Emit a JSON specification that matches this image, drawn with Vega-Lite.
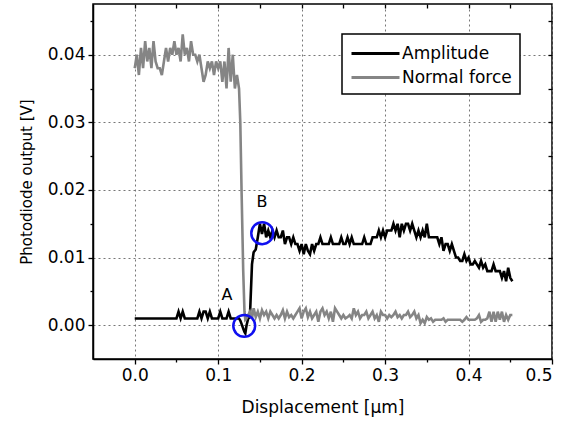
{
"$schema": "https://vega.github.io/schema/vega-lite/v6.json",
"width": 459, "height": 355,
"autosize": {"type": "none"},
"padding": {"left": 93, "top": 4, "right": 25, "bottom": 66},
"config": {"font": "DejaVu Sans", "view": {"stroke": "black", "strokeWidth": 1.5},
  "axis": {"labelFontSize": 17, "labelColor": "black", "labelFont": "DejaVu Sans", "titleFont": "DejaVu Sans", "titleFontSize": 16, "titleFontWeight": "normal", "titleColor": "black", "tickColor": "black", "tickWidth": 1.3, "domainColor": "black", "domainWidth": 1.5, "gridColor": "#777777", "gridDash": [2, 3], "gridWidth": 1, "gridOpacity": 1}},
"datasets": {
"curves": [
{"x":0,"Amplitude":0.001,"Normal force":0.038},
{"x":0.0025,"Amplitude":0.001,"Normal force":0.040},
{"x":0.005,"Amplitude":0.001,"Normal force":0.037},
{"x":0.0075,"Amplitude":0.001,"Normal force":0.041},
{"x":0.01,"Amplitude":0.001,"Normal force":0.038},
{"x":0.0125,"Amplitude":0.001,"Normal force":0.042},
{"x":0.015,"Amplitude":0.001,"Normal force":0.039},
{"x":0.0175,"Amplitude":0.001,"Normal force":0.041},
{"x":0.02,"Amplitude":0.001,"Normal force":0.038},
{"x":0.0225,"Amplitude":0.001,"Normal force":0.042},
{"x":0.025,"Amplitude":0.001,"Normal force":0.039},
{"x":0.0275,"Amplitude":0.001,"Normal force":0.038},
{"x":0.03,"Amplitude":0.001,"Normal force":0.038},
{"x":0.0325,"Amplitude":0.001,"Normal force":0.037},
{"x":0.035,"Amplitude":0.001,"Normal force":0.039},
{"x":0.0375,"Amplitude":0.001,"Normal force":0.041},
{"x":0.04,"Amplitude":0.001,"Normal force":0.039},
{"x":0.0425,"Amplitude":0.001,"Normal force":0.041},
{"x":0.045,"Amplitude":0.001,"Normal force":0.040},
{"x":0.0475,"Amplitude":0.001,"Normal force":0.042},
{"x":0.05,"Amplitude":0.001,"Normal force":0.040},
{"x":0.0525,"Amplitude":0.002,"Normal force":0.041},
{"x":0.055,"Amplitude":0.001,"Normal force":0.039},
{"x":0.0575,"Amplitude":0.002,"Normal force":0.043},
{"x":0.06,"Amplitude":0.001,"Normal force":0.040},
{"x":0.0625,"Amplitude":0.001,"Normal force":0.041},
{"x":0.065,"Amplitude":0.001,"Normal force":0.039},
{"x":0.0675,"Amplitude":0.001,"Normal force":0.042},
{"x":0.07,"Amplitude":0.001,"Normal force":0.040},
{"x":0.0725,"Amplitude":0.001,"Normal force":0.040},
{"x":0.075,"Amplitude":0.001,"Normal force":0.039},
{"x":0.0775,"Amplitude":0.002,"Normal force":0.040},
{"x":0.08,"Amplitude":0.001,"Normal force":0.038},
{"x":0.0825,"Amplitude":0.002,"Normal force":0.036},
{"x":0.085,"Amplitude":0.002,"Normal force":0.037},
{"x":0.0875,"Amplitude":0.001,"Normal force":0.039},
{"x":0.09,"Amplitude":0.002,"Normal force":0.038},
{"x":0.0925,"Amplitude":0.001,"Normal force":0.039},
{"x":0.095,"Amplitude":0.001,"Normal force":0.037},
{"x":0.0975,"Amplitude":0.001,"Normal force":0.039},
{"x":0.1,"Amplitude":0.001,"Normal force":0.038},
{"x":0.1025,"Amplitude":0.002,"Normal force":0.039},
{"x":0.105,"Amplitude":0.001,"Normal force":0.036},
{"x":0.1075,"Amplitude":0.001,"Normal force":0.039},
{"x":0.11,"Amplitude":0.001,"Normal force":0.035},
{"x":0.1125,"Amplitude":0.002,"Normal force":0.041},
{"x":0.115,"Amplitude":0.001,"Normal force":0.036},
{"x":0.1175,"Amplitude":0.001,"Normal force":0.040},
{"x":0.12,"Amplitude":0.001,"Normal force":0.035},
{"x":0.1225,"Amplitude":0.001,"Normal force":0.037},
{"x":0.125,"Amplitude":0.001,"Normal force":0.035},
{"x":0.1265,"Amplitude":0.0007,"Normal force":0.030},
{"x":0.128,"Amplitude":0.0002,"Normal force":0.020},
{"x":0.13,"Amplitude":-0.0005,"Normal force":0.008},
{"x":0.1315,"Amplitude":-0.001,"Normal force":0.002},
{"x":0.1325,"Amplitude":-0.0012,"Normal force":0.0008},
{"x":0.134,"Amplitude":0.0,"Normal force":0.001},
{"x":0.136,"Amplitude":0.001,"Normal force":0.0015},
{"x":0.138,"Amplitude":0.0012,"Normal force":0.002},
{"x":0.1405,"Amplitude":0.009,"Normal force":0.001},
{"x":0.1425,"Amplitude":0.0108,"Normal force":0.0025},
{"x":0.145,"Amplitude":0.0112,"Normal force":0.0012},
{"x":0.1475,"Amplitude":0.013,"Normal force":0.002},
{"x":0.15,"Amplitude":0.015,"Normal force":0.001},
{"x":0.1525,"Amplitude":0.0135,"Normal force":0.0022},
{"x":0.155,"Amplitude":0.015,"Normal force":0.0015},
{"x":0.1575,"Amplitude":0.013,"Normal force":0.002},
{"x":0.16,"Amplitude":0.014,"Normal force":0.001},
{"x":0.1625,"Amplitude":0.013,"Normal force":0.002},
{"x":0.165,"Amplitude":0.014,"Normal force":0.0015},
{"x":0.1675,"Amplitude":0.013,"Normal force":0.001},
{"x":0.17,"Amplitude":0.014,"Normal force":0.0015},
{"x":0.1725,"Amplitude":0.013,"Normal force":0.001},
{"x":0.175,"Amplitude":0.013,"Normal force":0.0015},
{"x":0.1775,"Amplitude":0.014,"Normal force":0.0022},
{"x":0.18,"Amplitude":0.012,"Normal force":0.001},
{"x":0.1825,"Amplitude":0.013,"Normal force":0.002},
{"x":0.185,"Amplitude":0.013,"Normal force":0.0012},
{"x":0.1875,"Amplitude":0.012,"Normal force":0.0015},
{"x":0.19,"Amplitude":0.013,"Normal force":0.001},
{"x":0.1925,"Amplitude":0.012,"Normal force":0.0015},
{"x":0.195,"Amplitude":0.012,"Normal force":0.002},
{"x":0.1975,"Amplitude":0.011,"Normal force":0.0025},
{"x":0.2,"Amplitude":0.012,"Normal force":0.001},
{"x":0.2025,"Amplitude":0.0105,"Normal force":0.002},
{"x":0.205,"Amplitude":0.012,"Normal force":0.0025},
{"x":0.2075,"Amplitude":0.011,"Normal force":0.0012},
{"x":0.21,"Amplitude":0.0105,"Normal force":0.002},
{"x":0.2125,"Amplitude":0.012,"Normal force":0.001},
{"x":0.215,"Amplitude":0.011,"Normal force":0.0015},
{"x":0.2175,"Amplitude":0.012,"Normal force":0.002},
{"x":0.22,"Amplitude":0.012,"Normal force":0.0005},
{"x":0.2225,"Amplitude":0.013,"Normal force":0.002},
{"x":0.225,"Amplitude":0.012,"Normal force":0.0025},
{"x":0.2275,"Amplitude":0.012,"Normal force":0.0015},
{"x":0.23,"Amplitude":0.012,"Normal force":0.002},
{"x":0.2325,"Amplitude":0.012,"Normal force":0.001},
{"x":0.235,"Amplitude":0.013,"Normal force":0.002},
{"x":0.2375,"Amplitude":0.012,"Normal force":0.0005},
{"x":0.24,"Amplitude":0.012,"Normal force":0.0025},
{"x":0.2425,"Amplitude":0.012,"Normal force":0.002},
{"x":0.245,"Amplitude":0.012,"Normal force":0.0015},
{"x":0.2475,"Amplitude":0.013,"Normal force":0.001},
{"x":0.25,"Amplitude":0.012,"Normal force":0.0015},
{"x":0.2525,"Amplitude":0.012,"Normal force":0.001},
{"x":0.255,"Amplitude":0.013,"Normal force":0.0012},
{"x":0.2575,"Amplitude":0.012,"Normal force":0.0015},
{"x":0.26,"Amplitude":0.013,"Normal force":0.001},
{"x":0.2625,"Amplitude":0.012,"Normal force":0.0025},
{"x":0.265,"Amplitude":0.012,"Normal force":0.0015},
{"x":0.2675,"Amplitude":0.012,"Normal force":0.002},
{"x":0.27,"Amplitude":0.012,"Normal force":0.001},
{"x":0.2725,"Amplitude":0.012,"Normal force":0.0015},
{"x":0.275,"Amplitude":0.013,"Normal force":0.0015},
{"x":0.2775,"Amplitude":0.012,"Normal force":0.002},
{"x":0.28,"Amplitude":0.012,"Normal force":0.001},
{"x":0.2825,"Amplitude":0.012,"Normal force":0.0015},
{"x":0.285,"Amplitude":0.013,"Normal force":0.002},
{"x":0.2875,"Amplitude":0.013,"Normal force":0.001},
{"x":0.29,"Amplitude":0.013,"Normal force":0.0015},
{"x":0.2925,"Amplitude":0.014,"Normal force":0.0005},
{"x":0.295,"Amplitude":0.013,"Normal force":0.002},
{"x":0.2975,"Amplitude":0.014,"Normal force":0.0015},
{"x":0.3,"Amplitude":0.013,"Normal force":0.0015},
{"x":0.3025,"Amplitude":0.014,"Normal force":0.001},
{"x":0.305,"Amplitude":0.014,"Normal force":0.0015},
{"x":0.3075,"Amplitude":0.014,"Normal force":0.0012},
{"x":0.31,"Amplitude":0.015,"Normal force":0.0015},
{"x":0.3125,"Amplitude":0.014,"Normal force":0.002},
{"x":0.315,"Amplitude":0.015,"Normal force":0.0012},
{"x":0.3175,"Amplitude":0.013,"Normal force":0.0015},
{"x":0.32,"Amplitude":0.015,"Normal force":0.001},
{"x":0.3225,"Amplitude":0.014,"Normal force":0.0015},
{"x":0.325,"Amplitude":0.015,"Normal force":0.0015},
{"x":0.3275,"Amplitude":0.015,"Normal force":0.002},
{"x":0.33,"Amplitude":0.014,"Normal force":0.0012},
{"x":0.3325,"Amplitude":0.015,"Normal force":0.0015},
{"x":0.335,"Amplitude":0.014,"Normal force":0.002},
{"x":0.3375,"Amplitude":0.013,"Normal force":0.001},
{"x":0.34,"Amplitude":0.014,"Normal force":0.0015},
{"x":0.3425,"Amplitude":0.013,"Normal force":0.0003},
{"x":0.345,"Amplitude":0.014,"Normal force":0.0008},
{"x":0.3475,"Amplitude":0.013,"Normal force":0.0003},
{"x":0.35,"Amplitude":0.015,"Normal force":0.0012},
{"x":0.3525,"Amplitude":0.013,"Normal force":0.0008},
{"x":0.355,"Amplitude":0.013,"Normal force":0.001},
{"x":0.3575,"Amplitude":0.013,"Normal force":0.0005},
{"x":0.36,"Amplitude":0.013,"Normal force":0.0008},
{"x":0.3625,"Amplitude":0.013,"Normal force":0.0008},
{"x":0.365,"Amplitude":0.012,"Normal force":0.0008},
{"x":0.3675,"Amplitude":0.013,"Normal force":0.0008},
{"x":0.37,"Amplitude":0.011,"Normal force":0.001},
{"x":0.3725,"Amplitude":0.012,"Normal force":0.0005},
{"x":0.375,"Amplitude":0.012,"Normal force":0.0008},
{"x":0.3775,"Amplitude":0.011,"Normal force":0.0008},
{"x":0.38,"Amplitude":0.012,"Normal force":0.0008},
{"x":0.3825,"Amplitude":0.011,"Normal force":0.0008},
{"x":0.385,"Amplitude":0.010,"Normal force":0.0008},
{"x":0.3875,"Amplitude":0.010,"Normal force":0.0008},
{"x":0.39,"Amplitude":0.0095,"Normal force":0.0008},
{"x":0.3925,"Amplitude":0.0095,"Normal force":0.0005},
{"x":0.395,"Amplitude":0.0105,"Normal force":0.0008},
{"x":0.3975,"Amplitude":0.0095,"Normal force":0.0012},
{"x":0.4,"Amplitude":0.010,"Normal force":0.0008},
{"x":0.4025,"Amplitude":0.009,"Normal force":0.0008},
{"x":0.405,"Amplitude":0.009,"Normal force":0.0008},
{"x":0.4075,"Amplitude":0.0095,"Normal force":0.0008},
{"x":0.41,"Amplitude":0.009,"Normal force":0.001},
{"x":0.4125,"Amplitude":0.0085,"Normal force":0.0015},
{"x":0.415,"Amplitude":0.0095,"Normal force":0.0005},
{"x":0.4175,"Amplitude":0.0085,"Normal force":0.0008},
{"x":0.42,"Amplitude":0.009,"Normal force":0.0008},
{"x":0.4225,"Amplitude":0.008,"Normal force":0.001},
{"x":0.425,"Amplitude":0.008,"Normal force":0.002},
{"x":0.4275,"Amplitude":0.008,"Normal force":0.0005},
{"x":0.43,"Amplitude":0.009,"Normal force":0.002},
{"x":0.4325,"Amplitude":0.008,"Normal force":0.0005},
{"x":0.435,"Amplitude":0.008,"Normal force":0.002},
{"x":0.4375,"Amplitude":0.008,"Normal force":0.0008},
{"x":0.44,"Amplitude":0.007,"Normal force":0.002},
{"x":0.4425,"Amplitude":0.008,"Normal force":0.0005},
{"x":0.445,"Amplitude":0.0065,"Normal force":0.0015},
{"x":0.4475,"Amplitude":0.0085,"Normal force":0.0008},
{"x":0.45,"Amplitude":0.007,"Normal force":0.0015},
{"x":0.4525,"Amplitude":0.0065,"Normal force":0.0015}
],
"circles": [{"x":0.1312,"y":-0.0001},{"x":0.1528,"y":0.0136}],
"labels": [{"x":0.1106,"y":0.0044,"t":"A"},{"x":0.1525,"y":0.0182,"t":"B"}]
},
"layer": [
{"data": {"name": "curves"},
 "transform": [{"fold": ["Amplitude", "Normal force"], "as": ["series", "value"]}],
 "mark": {"type": "line", "strokeWidth": 2.6, "clip": true},
 "encoding": {
  "x": {"field": "x", "type": "quantitative", "scale": {"domain": [-0.05, 0.5], "nice": false, "zero": false},
   "axis": {"orient": "bottom", "values": [0, 0.1, 0.2, 0.3, 0.4, 0.5], "format": ".1f", "title": "Displacement [µm]", "titleFontSize": 17, "labelFontSize": 17, "grid": true, "tickSize": 5, "labelPadding": 3, "titlePadding": 16}},
  "y": {"field": "value", "type": "quantitative", "scale": {"domain": [-0.005, 0.0475], "nice": false, "zero": false},
   "axis": {"orient": "left", "values": [0, 0.01, 0.02, 0.03, 0.04], "format": ".2f", "title": "Photodiode output [V]", "titleFontSize": 15, "labelFontSize": 17, "grid": true, "tickSize": 5, "labelPadding": 3, "titlePadding": 13}},
  "color": {"field": "series", "type": "nominal", "scale": {"domain": ["Amplitude", "Normal force"], "range": ["#000000", "#858585"]},
   "legend": {"orient": "none", "legendX": 249, "legendY": 30, "title": null, "symbolType": "M-2.4,0H2.4", "symbolSize": 400, "symbolOffset": 14, "symbolStrokeWidth": 3, "labelFontSize": 17, "labelFont": "DejaVu Sans", "labelColor": "black", "labelOffset": 15, "strokeColor": "black", "fillColor": "white", "padding": 8, "rowPadding": 4,
    "encode": {"legend": {"update": {"strokeWidth": {"value": 1.5}}}}}}
 }},
{"data": {"name": "circles"},
 "mark": {"type": "point", "shape": "circle", "size": 480, "stroke": "#1010f0", "strokeWidth": 2.5, "filled": false, "opacity": 1},
 "encoding": {
  "x": {"field": "x", "type": "quantitative", "scale": {"domain": [-0.05, 0.5], "nice": false, "zero": false},
   "axis": {"orient": "bottom", "values": [0.05, 0.15, 0.25, 0.35, 0.45], "labels": false, "grid": false, "domain": false, "tickSize": 3, "title": null}},
  "y": {"field": "y", "type": "quantitative", "scale": {"domain": [-0.005, 0.0475], "nice": false, "zero": false},
   "axis": {"orient": "left", "values": [0.005, 0.015, 0.025, 0.035, 0.045], "labels": false, "grid": false, "domain": false, "tickSize": 3, "title": null}}
 }},
{"data": {"name": "labels"},
 "mark": {"type": "text", "fontSize": 16, "font": "DejaVu Sans", "color": "black"},
 "encoding": {
  "x": {"field": "x", "type": "quantitative", "scale": {"domain": [-0.05, 0.5], "nice": false, "zero": false},
   "axis": {"orient": "top", "values": [0, 0.05, 0.1, 0.15, 0.2, 0.25, 0.3, 0.35, 0.4, 0.45], "labels": false, "grid": false, "domain": false, "tickSize": -4, "title": null}},
  "y": {"field": "y", "type": "quantitative", "scale": {"domain": [-0.005, 0.0475], "nice": false, "zero": false},
   "axis": {"orient": "right", "values": [0, 0.005, 0.01, 0.015, 0.02, 0.025, 0.03, 0.035, 0.04, 0.045], "labels": false, "grid": false, "domain": false, "tickSize": -4, "title": null}},
  "text": {"field": "t"}
 }}
],
"resolve": {"axis": {"x": "independent", "y": "independent"}}
}
